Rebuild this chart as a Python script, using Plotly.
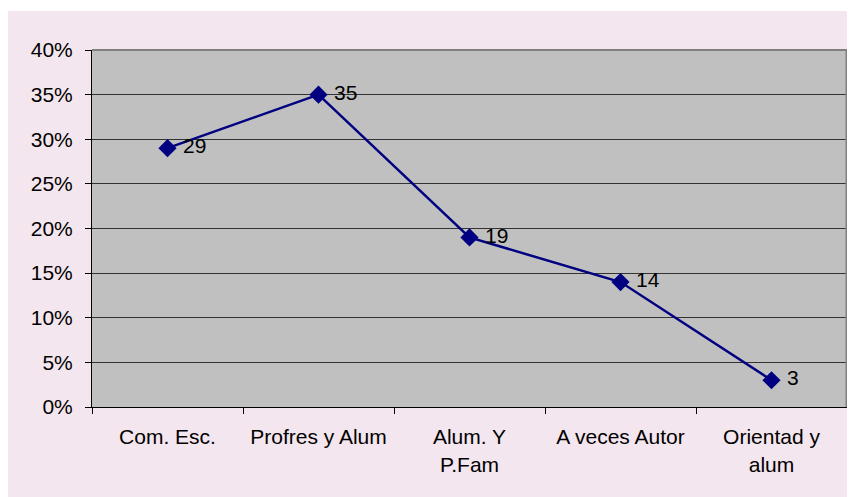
"""Line chart: percentages by category (Excel-style)."""

import plotly.graph_objects as go

categories = ["Com. Esc.", "Profres y Alum", "Alum. Y<br>P.Fam", "A veces Autor", "Orientad y<br>alum"]
values = [29, 35, 19, 14, 3]
labels = [" " + str(v) for v in values]

# the page puts the figure 8px in from the top-left corner
W, H = 847, 489
M_L, M_R, M_T, M_B = 84, 8, 42, 90

NAVY = "#000080"
PINK = "#f4e6ee"
GRAY = "#c0c0c0"
FONT = dict(family="Arial, Liberation Sans, sans-serif", size=21, color="#000000")

fig = go.Figure()
fig.add_trace(
	go.Scatter(
		x=categories,
		y=values,
		mode="lines+markers+text",
		text=labels,
		textposition="middle right",
		textfont=FONT,
		line=dict(color=NAVY, width=2.5),
		marker=dict(symbol="diamond", size=14, color=NAVY),
		showlegend=False,
		cliponaxis=False,
	)
)

pw = W - M_L - M_R
ph = H - M_T - M_B


def px_y(p):
	return (H - M_B - p) / ph


shapes = [
	# thin white strip above the pink frame
	dict(type="rect", xref="paper", yref="paper", x0=-M_L / pw, x1=1 + M_R / pw, y0=px_y(0), y1=px_y(3),
		fillcolor="white", line=dict(width=0), layer="below"),
	# gray top and right border of plot area
	dict(type="line", xref="paper", yref="paper", x0=0, x1=1, y0=1, y1=1,
		line=dict(color="#808080", width=2)),
	dict(type="line", xref="paper", yref="paper", x0=1, x1=1, y0=0, y1=1,
		line=dict(color="#808080", width=3)),
]

fig.update_layout(
	width=W,
	height=H,
	margin=dict(l=M_L, r=M_R, t=M_T, b=M_B),
	paper_bgcolor=PINK,
	plot_bgcolor=GRAY,
	font=FONT,
	shapes=shapes,
	xaxis=dict(
		type="category",
		range=[-0.5, 4.5],
		tickson="boundaries",
		ticks="outside",
		ticklen=6,
		tickcolor="#000000",
		showgrid=False,
		showline=True,
		linecolor="#000000",
		linewidth=1,
		tickfont=FONT,
		ticklabelstandoff=11,
	),
	yaxis=dict(
		range=[0, 40],
		dtick=5,
		ticksuffix="%",
		ticks="outside",
		ticklen=6,
		tickcolor="#000000",
		showgrid=True,
		gridcolor="#333333",
		gridwidth=1,
		zeroline=False,
		showline=True,
		linecolor="#000000",
		linewidth=1,
		tickfont=FONT,
		ticklabelstandoff=8,
	),
)

fig.write_html("out.html")
